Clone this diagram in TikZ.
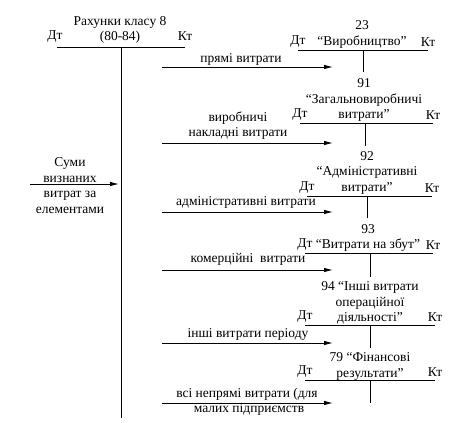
\documentclass[tikz,border=0pt]{standalone}
\usepackage{fontspec}
\setmainfont{Liberation Serif}
\usetikzlibrary{arrows.meta}
\tikzset{
  txt/.style={inner sep=0pt,align=center,font=\fontsize{13.5}{15.5}\selectfont},
  tline/.style={line width=0.9pt},
  flow/.style={line width=0.9pt,-{Latex[length=9pt,width=4.5pt]}}
}

\begin{document}
\begin{tikzpicture}[x=1pt,y=-1pt]
  \useasboundingbox (0,0) rectangle (474,423);
  % arrow start / end columns
  \def\xs{162}\def\xe{333}
  % class 8 account
  \node[txt] (k8) at (120,30) {Рахунки класу 8\\(80-84)};
  \node[txt] (k8dt) at (55,37) {Дт};
  \node[txt] (k8kt) at (185,36) {Кт};
  \coordinate (k8l) at (57,47);\coordinate (k8r) at (185,47);
  \coordinate (k8top) at (121,47);\coordinate (k8bot) at (121,418);
  \draw[tline] (k8l) -- (k8r);
  \draw[tline] (k8top) -- (k8bot);
  % incoming costs
  \node[txt] (sums) at (70,185.5) {Суми\\визнаних\\витрат за\\елементами};
  \coordinate (in0) at (30,184);\coordinate (in1) at (119,184);
  \draw[flow] (in0) -- (in1);
  % target accounts: name/line y/left/right/stem x/stem end
  \foreach \n/\yl/\xa/\xb/\xv/\yv in {23/50/298/428/363/72,91/123/300/433/365/146,
      92/196/307/432/367/218,93/253/305/433/370/277,94/325/305/435/370/348,79/380/305/435/370/403}{%
    \node[txt] (dt\n) at (\xa,\yl-8) {Дт};
    \node[txt] (kt\n) at (\xb,\yl-8) {Кт};
    \draw[tline] (\xa,\yl) -- (\xb,\yl);
    \draw[tline] (\xv,\yl) -- (\xv,\yv);}
  % account titles
  \node[txt] (a23) at (362,34.5) {23\\“Виробництво”};
  \node[txt] (a91) at (364,100) {91\\“Загальновиробничі\\витрати”};
  \node[txt] (a92) at (367,172.5) {92\\“Адміністративні\\витрати”};
  \node[txt] (a93) at (368,238) {93\\“Витрати на збут”};
  \node[txt] (a94) at (370,303) {94 “Інші витрати\\операційної\\діяльності”};
  \node[txt] (a79) at (370,366.5) {79 “Фінансові\\результати”};
  % outgoing arrows with labels
  \foreach \i/\y in {1/67,2/143,3/212,4/270,5/343,6/403}{%
    \coordinate (s\i) at (\xs,\y);\coordinate (e\i) at (\xe,\y);
    \draw[flow] (s\i) -- (e\i);}
  \node[txt] (l1) at (241,59) {прямі витрати};
  \node[txt] (l2) at (238,125.5) {виробничі\\накладні витрати};
  \node[txt] (l3) at (246,202) {адміністративні витрати};
  \node[txt] (l4) at (248,259) {комерційні\ \ витрати};
  \node[txt] (l5) at (248,334) {інші витрати періоду};
  \node[txt] (l6a) at (247,394) {всі непрямі витрати (для};
  \node[txt] (l6b) at (249,409.5) {малих підприємств};
\end{tikzpicture}
\end{document}
